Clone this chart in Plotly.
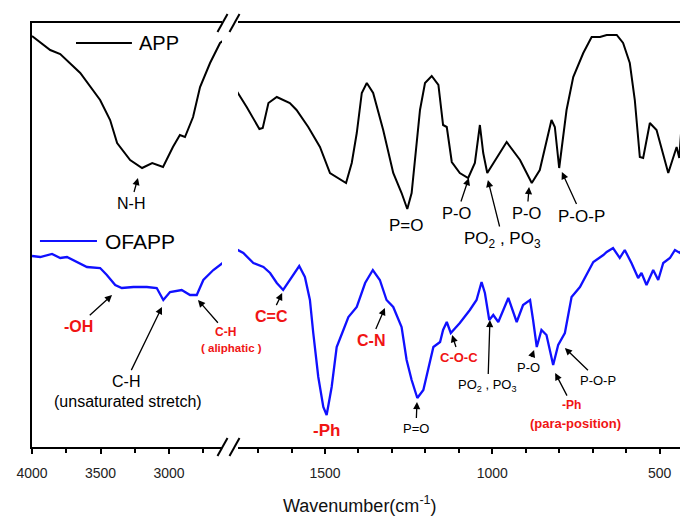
import plotly.graph_objects as go

# ---------------- data (wavenumber in cm-1, transmittance in arbitrary units) -------------
app_left_wn = [4000, 3867, 3794, 3648, 3503, 3430, 3379, 3284, 3197, 3123, 3044, 2972,
               2921, 2884, 2825, 2774, 2701, 2628, 2600]
app_left_t = [411, 397, 393, 374, 347, 327, 304, 287, 279, 284, 280, 300,
              312, 310, 330, 360, 384, 404, 407]

app_right_wn = [1766, 1734, 1696, 1686, 1669, 1644, 1605, 1585, 1550, 1515, 1485, 1465,
                1437, 1420, 1405, 1390, 1375, 1356, 1326, 1296, 1271, 1254, 1241, 1216,
                1201, 1181, 1161, 1147, 1136, 1121, 1097, 1072, 1052, 1037, 1027, 1015,
                997, 957, 917, 882, 858, 823, 813, 800, 778, 758, 728, 703, 678, 658,
                628, 609, 589, 574, 559, 549, 529, 509, 474, 459, 449, 441, 429, 415]
app_right_t = [357, 340, 318, 319, 344, 350, 344, 337, 320, 300, 274, 270,
               264, 284, 314, 354, 364, 354, 317, 274, 254, 238, 254, 337,
               364, 371, 362, 322, 320, 285, 274, 269, 284, 322, 294, 274,
               284, 305, 287, 264, 277, 327, 320, 279, 337, 370, 394, 410, 410, 412,
               412, 404, 384, 347, 290, 289, 324, 317, 274, 290, 300, 289, 347, 375]

ofapp_left_wn = [4000, 3940, 3854, 3794, 3745, 3672, 3599, 3503, 3454, 3393, 3345, 3260,
                 3162, 3090, 3042, 2993, 2908, 2847, 2798, 2750, 2677, 2600]
ofapp_left_t = [191, 190, 193, 189, 190, 185, 180, 179, 172, 162, 159, 160,
                160, 159, 147, 155, 157, 152, 152, 167, 177, 185]

ofapp_right_wn = [1766, 1744, 1714, 1684, 1664, 1644, 1625, 1599, 1577, 1560, 1545, 1535,
                  1520, 1505, 1495, 1480, 1465, 1445, 1430, 1405, 1380, 1357, 1336, 1316,
                  1296, 1271, 1256, 1241, 1224, 1206, 1191, 1176, 1156, 1147, 1136, 1124,
                  1097, 1067, 1047, 1032, 1022, 1009, 997, 982, 952, 927, 908, 887,
                  878, 867, 853, 838, 818, 803, 783, 763, 738, 718, 698, 668,
                  658, 639, 619, 604, 584, 564, 554, 539, 519, 504, 489, 469,
                  454, 439, 424, 415]
ofapp_right_t = [198, 194, 184, 180, 174, 164, 157, 170, 181, 170, 147, 114,
                 70, 40, 32, 60, 100, 117, 130, 140, 164, 177, 167, 147,
                 140, 120, 87, 67, 49, 57, 77, 100, 105, 117, 125, 114,
                 124, 137, 147, 165, 154, 127, 132, 125, 149, 125, 142, 147,
                 127, 100, 117, 112, 82, 102, 114, 150, 160, 172, 185, 192,
                 195, 199, 189, 197, 184, 169, 174, 162, 177, 167, 184, 189,
                 197, 194, 204, 215]

left_ticks = [4000, 3500, 3000]
left_minor = [3750, 3250, 2750]
right_ticks = [1500, 1000, 500]

FONT = "Arial, Liberation Sans, sans-serif"
RED = "#f01414"
BLUE = "#1010ff"

fig = go.Figure()
fig.add_trace(go.Scatter(x=app_left_wn, y=app_left_t, mode="lines",
                         line=dict(color="black", width=2), xaxis="x", yaxis="y"))
fig.add_trace(go.Scatter(x=app_right_wn, y=app_right_t, mode="lines",
                         line=dict(color="black", width=2), xaxis="x2", yaxis="y"))
fig.add_trace(go.Scatter(x=ofapp_left_wn, y=ofapp_left_t, mode="lines",
                         line=dict(color=BLUE, width=2.3), xaxis="x", yaxis="y"))
fig.add_trace(go.Scatter(x=ofapp_right_wn, y=ofapp_right_t, mode="lines",
                         line=dict(color=BLUE, width=2.3), xaxis="x2", yaxis="y"))

axis_common = dict(showline=True, linecolor="black", linewidth=2, mirror=True,
                   ticks="outside", ticklen=5, tickwidth=2, tickcolor="black",
                   showgrid=False, zeroline=False, ticklabelstandoff=7, automargin=False,
                   tickfont=dict(family=FONT, size=14, color="#222"))

# page body adds an 8 px margin, so the figure is 8 px smaller and margins shifted
fig.update_layout(
    width=680, height=510,
    margin=dict(l=24, r=0, t=15, b=71, autoexpand=False),
    paper_bgcolor="white", plot_bgcolor="white",
    showlegend=False, hovermode=False,
    xaxis=dict(domain=[0, 0.2896], range=[4000, 2614], tickmode="array",
               tickvals=left_ticks, ticktext=[str(v) for v in left_ticks],
               minor=dict(ticks="outside", ticklen=4, tickwidth=2, tickcolor="black",
                          tickmode="array", tickvals=left_minor),
               anchor="y", **axis_common),
    xaxis2=dict(domain=[0.3140, 1], range=[1760, 415], tickmode="array",
                tickvals=right_ticks, ticktext=[str(v) for v in right_ticks],
                minor=dict(ticks="outside", ticklen=4, tickwidth=2, tickcolor="black",
                           dtick=100, tick0=0),
                anchor="y", **axis_common),
    yaxis=dict(range=[0, 424], showline=True, linecolor="black", linewidth=2,
               showticklabels=False, ticks="", showgrid=False, zeroline=False,
               anchor="x", automargin=False),
)

# break marks
def px2paper(px):
    return (px - 32) / 656.0

shapes = []
for cx in (222.5, 234.5):
    for yb in (0.0, 1.0):
        shapes.append(dict(type="line", xref="paper", yref="paper",
                           x0=px2paper(cx - 5), y0=yb - 9 / 424.0,
                           x1=px2paper(cx + 5), y1=yb + 9 / 424.0,
                           line=dict(color="black", width=2)))
# legend sample lines
shapes.append(dict(type="line", xref="x", yref="y", x0=3679, x1=3271, y0=404, y1=404,
                   line=dict(color="black", width=2)))
shapes.append(dict(type="line", xref="x", yref="y", x0=3942, x1=3526, y0=206, y1=206,
                   line=dict(color=BLUE, width=2)))
fig.update_layout(shapes=shapes)

ann = []

def fmt(s, bold):
    return ("<b>%s</b>" % s) if bold else s

def text(x, y, s, size, color="black", bold=False, xref="x2", xanchor="center"):
    ann.append(dict(x=x, y=y, xref=xref, yref="y", text=fmt(s, bold),
                    showarrow=False, xanchor=xanchor, yanchor="middle",
                    font=dict(family=FONT, size=size, color=color)))

def label(tipx, tipy, tx, ty, s, size, color="black", bold=False, ref="x2"):
    # text centred at (tx, ty); arrow from the text box to the tip
    ann.append(dict(x=tipx, y=tipy, ax=tx, ay=ty, xref=ref, yref="y", axref=ref, ayref="y",
                    text=fmt(s, bold), showarrow=True, arrowhead=2, arrowsize=1.1,
                    arrowwidth=1.3, arrowcolor="black", standoff=0, startstandoff=1,
                    font=dict(family=FONT, size=size, color=color)))

# legend texts
text(3234, 404, "APP", 20, xref="x", xanchor="left")
text(3482, 206, "OFAPP", 21, xref="x", xanchor="left")

# APP labels
label(3227, 269, 3278, 244, "N-H", 16, ref="x")
text(1255, 222, "P=O", 17)
label(1070, 269, 1105, 234, "P-O", 16.5)
label(1013, 267, 968, 207, "PO<sub>2</sub> , PO<sub>3</sub>", 17)
label(890, 260, 896, 234, "P-O", 16.5)
label(792, 275, 732, 231, "P-O-P", 17)

# OFAPP labels
label(3416, 152, 3664, 121, "-OH", 16, color=RED, bold=True, ref="x")
label(3052, 140, 3314, 66, "C-H", 16, ref="x")
text(3300, 46, "(unsaturated stretch)", 16, xref="x")
ann.append(dict(x=2789, y=147, xref="x", yref="y", ax=28, ay=32, axref="pixel", ayref="pixel",
                text="<b>C-H</b>", showarrow=True, arrowhead=2, arrowsize=1.1,
                arrowwidth=1.3, arrowcolor="black", standoff=0, startstandoff=1,
                font=dict(family=FONT, size=12, color=RED)))
ann.append(dict(x=px2paper(231), y=99, xref="paper", yref="y", text="<b>( aliphatic )</b>",
                showarrow=False, xanchor="center", yanchor="middle",
                font=dict(family=FONT, size=11.5, color=RED)))
label(1628, 154, 1661, 131, "C=C", 16, color=RED, bold=True)
text(1494, 17, "-Ph", 17, color=RED, bold=True)
label(1321, 139, 1362, 107, "C-N", 16, color=RED, bold=True)
label(1225, 45, 1228, 19, "P=O", 13)
label(1120, 112, 1099, 90, "C-O-C", 13, color=RED, bold=True)
label(1007, 127, 1013, 62, "PO<sub>2</sub> , PO<sub>3</sub>", 13)
label(875, 97, 893, 80, "P-O", 13)
label(783, 99, 684, 67, "P-O-P", 13)
label(812, 74, 762, 42, "-Ph", 12, color=RED, bold=True)
text(750, 24, "(para-position)", 13, color=RED, bold=True)

# axis title
ann.append(dict(x=0.5, y=-57 / 424.0, xref="paper", yref="paper",
                text="Wavenumber(cm<sup>-1</sup>)", showarrow=False,
                xanchor="center", yanchor="middle",
                font=dict(family=FONT, size=18, color="#111")))

fig.update_layout(annotations=ann)
fig.write_html("out.html")
